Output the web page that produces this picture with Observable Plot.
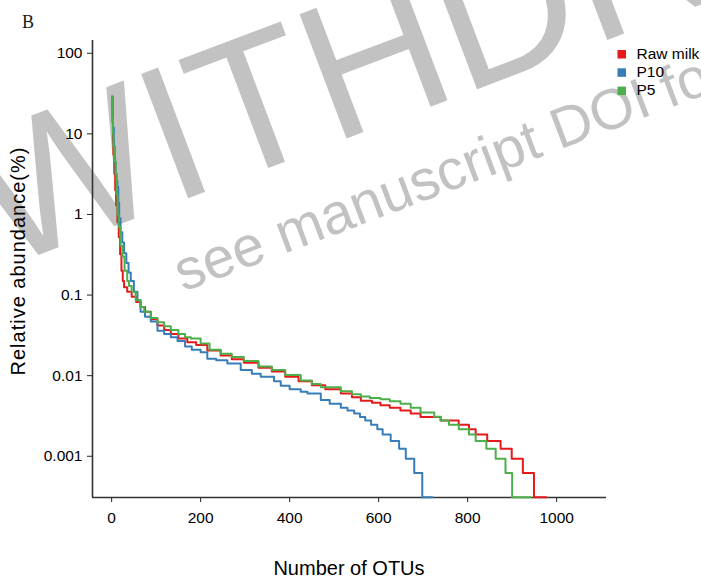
<!DOCTYPE html>
<html><head><meta charset="utf-8">
<script src="https://cdn.jsdelivr.net/npm/d3@7"></script>
<script src="https://cdn.jsdelivr.net/npm/@observablehq/plot@0.6"></script>
<style>
html,body{margin:0;padding:0;background:#fff;overflow:hidden;}
#wrap{position:relative;width:701px;height:582px;overflow:hidden;font-family:"Liberation Sans",Arial,sans-serif;}
#wm,#chart,#ov{position:absolute;left:0;top:0;}
#ov{pointer-events:none;}
</style></head>
<body>
<div id="wrap">
<svg id="wm" width="701" height="582">
  <g fill="#c2c2c2" font-family="Liberation Sans, Arial, sans-serif">
    <text transform="translate(1,269) rotate(-20.7)" font-size="193">WITHDRAWN</text>
    <text transform="translate(183,292) rotate(-20.7)" font-size="57">see manuscript DOI for details</text>
  </g>
</svg>
<div id="chart"></div>
<svg id="ov" width="701" height="582"></svg>
</div>
<script>
// ---- data ----
const seriesNames = ["Raw milk", "P10", "P5"];
const seriesColors = ["#e41a1c", "#377eb8", "#4daf4a"];

const rawMilkRank = [1,2,3,4,6,8,10,13,16,19,22,25,28,35,45,55,65,75,88,103,118,133,150,170,190,215,245,270,297,330,360,390,420,450,480,515,540,560,585,604,625,649,672,694,739,780,803,818,844,874,899,924,949,977];
const rawMilkAbund = [29,14,8,5.5,3.2,2,1.3,0.8,0.52,0.32,0.2,0.15,0.125,0.11,0.095,0.082,0.071,0.062,0.05,0.042,0.037,0.033,0.029,0.026,0.024,0.0205,0.0178,0.016,0.0145,0.0125,0.0113,0.0097,0.0085,0.0076,0.0068,0.006,0.0054,0.0049,0.0046,0.0043,0.004,0.0037,0.0034,0.00308,0.00277,0.00246,0.00217,0.00186,0.00155,0.00124,0.00093,0.00062,0.00031,0.00031];

const p10Rank = [1,2,3,5,7,9,11,13,15,17,20,24,28,33,38,43,50,58,65,75,88,103,118,133,148,165,180,200,215,235,260,290,315,335,365,380,400,425,440,470,490,515,530,545,558,570,583,597,609,627,646,661,680,698,721];
const p10Abund = [28,20,12,7,4.5,3.2,2.6,2.2,1.4,0.9,0.6,0.45,0.33,0.25,0.19,0.15,0.11,0.086,0.062,0.054,0.047,0.036,0.033,0.03,0.027,0.023,0.021,0.0195,0.0162,0.0155,0.0142,0.0118,0.0106,0.0097,0.0085,0.0075,0.0068,0.0063,0.006,0.005,0.0045,0.004,0.0037,0.0034,0.00308,0.00277,0.00246,0.00217,0.00186,0.00155,0.00124,0.00093,0.00062,0.00031,0.00031];

const p5Rank = [1,2,3,4,6,9,11,13,16,20,24,29,35,39,45,54,65,73,88,103,118,133,150,165,178,200,220,245,270,297,330,360,390,425,450,470,515,540,560,580,604,625,649,672,694,725,740,758,780,803,818,842,863,885,900,942];
const p5Abund = [29,16,10,7,4.5,3.2,1.8,1.0,0.7,0.41,0.3,0.2,0.15,0.13,0.11,0.086,0.071,0.062,0.052,0.046,0.041,0.037,0.033,0.030,0.029,0.025,0.021,0.0187,0.017,0.0152,0.013,0.0118,0.0102,0.0087,0.0079,0.0072,0.0064,0.0059,0.0055,0.0053,0.0051,0.0048,0.0045,0.004,0.0035,0.0031,0.00277,0.00246,0.00217,0.00186,0.00155,0.00124,0.00093,0.00062,0.00031,0.00031];

const xTicks = [0, 200, 400, 600, 800, 1000];
const xTickLabels = ["0", "200", "400", "600", "800", "1000"];
const yTicks = [100, 10, 1, 0.1, 0.01, 0.001];
const yTickLabels = ["100", "10", "1", "0.1", "0.01", "0.001"];

const panelLabel = "B";
const xTitle = "Number of OTUs";
const yTitle = "Relative abundance(%)";

// ---- build table ----
const ranks = [rawMilkRank, p10Rank, p5Rank];
const abunds = [rawMilkAbund, p10Abund, p5Abund];
const rows = [];
seriesNames.forEach((s, k) => {
  ranks[k].forEach((r, i) => rows.push({series: s, rank: r, abund: abunds[k][i]}));
});

const xDomain = [-43, 1112];
const yDomain = [0.000308, 144];
const xFmt = new Map(xTicks.map((t, i) => [t, xTickLabels[i]]));
const yFmt = new Map(yTicks.map((t, i) => [t, yTickLabels[i]]));

const chart = Plot.plot({
  width: 701, height: 582,
  marginLeft: 92, marginRight: 95, marginTop: 40, marginBottom: 85,
  style: {background: "transparent", fontFamily: "Liberation Sans, Arial, sans-serif", fontSize: "15.5px", color: "#000", overflow: "visible"},
  x: {domain: xDomain},
  y: {type: "log", domain: yDomain},
  color: {domain: seriesNames, range: seriesColors},
  marks: [
    Plot.axisX({ticks: xTicks, tickFormat: d => xFmt.get(d), tickSize: 5, tickPadding: 9, label: null, stroke: "#222", fill: "#000", fontSize: 15.5}),
    Plot.axisY({ticks: yTicks, tickFormat: d => yFmt.get(d), tickSize: 5, tickPadding: 5, label: null, stroke: "#222", fill: "#000", fontSize: 15.5}),
    Plot.ruleX([xDomain[0]], {stroke: "#333", strokeWidth: 1.6}),
    Plot.ruleY([yDomain[0]], {stroke: "#333", strokeWidth: 1.6}),
    Plot.line(rows, {x: "rank", y: "abund", z: "series", stroke: "series", curve: "step-after", strokeWidth: 2})
  ]
});
document.getElementById("chart").appendChild(chart);

// ---- overlay texts: panel label, axis titles, legend ----
const ov = d3.select("#ov");
ov.append("text").attr("x", 22).attr("y", 28).attr("font-family", "Liberation Serif, Times New Roman, serif")
  .attr("font-size", 18).attr("fill", "#1a1a1a").text(panelLabel);
ov.append("text").attr("x", 349).attr("y", 575).attr("text-anchor", "middle")
  .attr("font-family", "Liberation Sans, Arial, sans-serif").attr("font-size", 20).attr("fill", "#000").text(xTitle);
ov.append("text").attr("transform", "translate(25,261) rotate(-90)").attr("text-anchor", "middle")
  .attr("font-family", "Liberation Sans, Arial, sans-serif").attr("font-size", 20).attr("letter-spacing", "1px")
  .attr("fill", "#000").text(yTitle);
const lg = ov.append("g").attr("font-family", "Liberation Sans, Arial, sans-serif").attr("font-size", 15.5);
seriesNames.forEach((s, i) => {
  const y0 = 50 + i * 18.3;
  lg.append("rect").attr("x", 617.5).attr("y", y0).attr("width", 8.5).attr("height", 8.5).attr("fill", seriesColors[i]);
  lg.append("text").attr("x", 636.5).attr("y", y0 + 8.7).attr("fill", "#000").text(s);
});
</script>
</body></html>
